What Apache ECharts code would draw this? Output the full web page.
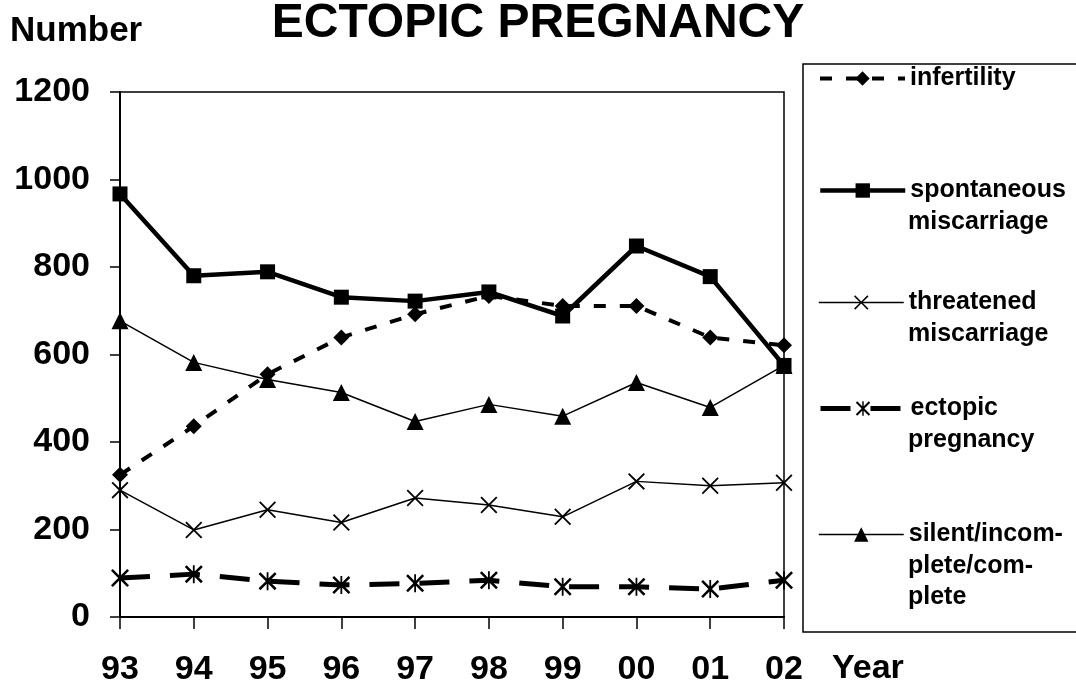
<!DOCTYPE html>
<html>
<head>
<meta charset="utf-8">
<script src="https://cdn.jsdelivr.net/npm/echarts@6/dist/echarts.min.js"></script>
<style>
  html, body { margin: 0; padding: 0; background: #fff; }
  #chart { width: 1076px; height: 689px; }
</style>
</head>
<body>
<div id="chart"></div>
<script>
var years = ['93', '94', '95', '96', '97', '98', '99', '00', '01', '02'];
var infertility = [325, 436, 555, 639, 692, 734, 711, 711, 639, 621];
var spontaneous = [967, 780, 789, 731, 722, 743, 688, 848, 778, 575];
var threatened = [290, 199, 245, 216, 272, 256, 229, 310, 300, 307];
var ectopic = [89, 98, 82, 73, 77, 84, 69, 69, 64, 84];
var silent = [677, 582, 543, 513, 447, 486, 459, 536, 479, 575];

var FONT = 'Liberation Sans, Arial, Helvetica, sans-serif';
// x and asterisk markers as filled paths
var crossPath = 'path://M0,1.5 L1.5,0 L10,8.5 L18.5,0 L20,1.5 L11.5,10 L20,18.5 L18.5,20 L10,11.5 L1.5,20 L0,18.5 L8.5,10 Z';
var starPath = 'path://M0,2 L2,0 L10,8 L18,0 L20,2 L12,10 L20,18 L18,20 L10,12 L2,20 L0,18 L8,10 Z M9,0 L11,0 L11,20 L9,20 Z';

var chart = echarts.init(document.getElementById('chart'));

function legendAt(name, cy) {
  return {
    data: [name],
    orient: 'vertical',
    left: 818,
    top: cy - 14,
    padding: 0,
    itemWidth: 85,
    itemHeight: 18,
    selectedMode: false,
    lineStyle: { width: 'inherit', type: 'inherit' },
    textStyle: { fontSize: 25, fontWeight: 'bold', fontFamily: FONT, color: '#000' },
    formatter: function (n) { return n.split(' ')[0]; }
  };
}

function extraLine(text, cy) {
  return {
    type: 'text',
    left: 908,
    top: cy - 14,
    style: { text: text, fontSize: 25, fontWeight: 'bold', fontFamily: FONT, fill: '#000' }
  };
}

chart.setOption({
  animation: false,
  backgroundColor: '#fff',
  title: {
    text: 'ECTOPIC PREGNANCY',
    left: 'center',
    top: -5,
    textStyle: { fontSize: 48, fontWeight: 'bold', fontFamily: FONT, color: '#000' }
  },
  grid: {
    left: 120, right: 292, top: 92, bottom: 72,
    show: true, borderColor: '#000', borderWidth: 1.5, backgroundColor: 'transparent'
  },
  legend: [
    legendAt('infertility', 80),
    legendAt('spontaneous miscarriage', 192),
    legendAt('threatened miscarriage', 304),
    legendAt('ectopic pregnancy', 410),
    legendAt('silent/incom- plete/com- plete', 536)
  ],
  graphic: [
    {
      type: 'rect',
      shape: { x: 803, y: 64, width: 300, height: 568 },
      style: { fill: 'none', stroke: '#000', lineWidth: 1.5 }
    },
    extraLine('miscarriage', 224),
    extraLine('miscarriage', 336),
    extraLine('pregnancy', 442),
    extraLine('plete/com-', 568),
    extraLine('plete', 599),
    {
      type: 'text', left: 10, top: 14,
      style: { text: 'Number', fontSize: 35, fontWeight: 'bold', fontFamily: FONT, fill: '#000' }
    },
    {
      type: 'text', left: 832, top: 652,
      style: { text: 'Year', fontSize: 34, fontWeight: 'bold', fontFamily: FONT, fill: '#000' }
    }
  ],
  xAxis: {
    type: 'category',
    data: years,
    boundaryGap: false,
    axisLine: { lineStyle: { color: '#000', width: 2 } },
    axisTick: { length: 12, lineStyle: { color: '#000', width: 1.5 } },
    axisLabel: { margin: 36, fontSize: 34, fontWeight: 'bold', fontFamily: FONT, color: '#000' },
    splitLine: { show: false }
  },
  yAxis: {
    type: 'value',
    min: 0, max: 1200, interval: 200,
    axisLine: { show: true, lineStyle: { color: '#000', width: 2 } },
    axisTick: { show: true, length: 10, lineStyle: { color: '#000', width: 1.5 } },
    axisLabel: {
      margin: 30, fontSize: 34, fontWeight: 'bold', fontFamily: FONT, color: '#000',
      formatter: function (v) { return String(v); }
    },
    splitLine: { show: false }
  },
  series: [
    {
      name: 'silent/incom- plete/com- plete', type: 'line', data: silent,
      symbol: 'triangle', symbolSize: 17,
      lineStyle: { color: '#000', width: 1.5 }, itemStyle: { color: '#000' }
    },
    {
      name: 'threatened miscarriage', type: 'line', data: threatened,
      symbol: crossPath, symbolSize: 17,
      lineStyle: { color: '#000', width: 1.5 }, itemStyle: { color: '#000' }
    },
    {
      name: 'ectopic pregnancy', type: 'line', data: ectopic,
      symbol: starPath, symbolSize: 18,
      lineStyle: { color: '#000', width: 5, type: [30, 20] }, itemStyle: { color: '#000' }
    },
    {
      name: 'infertility', type: 'line', data: infertility,
      symbol: 'diamond', symbolSize: 16,
      lineStyle: { color: '#000', width: 4, type: [12, 14] }, itemStyle: { color: '#000' }
    },
    {
      name: 'spontaneous miscarriage', type: 'line', data: spontaneous,
      symbol: 'rect', symbolSize: 15,
      lineStyle: { color: '#000', width: 4.5 }, itemStyle: { color: '#000' }
    }
  ]
});
</script>
</body>
</html>
